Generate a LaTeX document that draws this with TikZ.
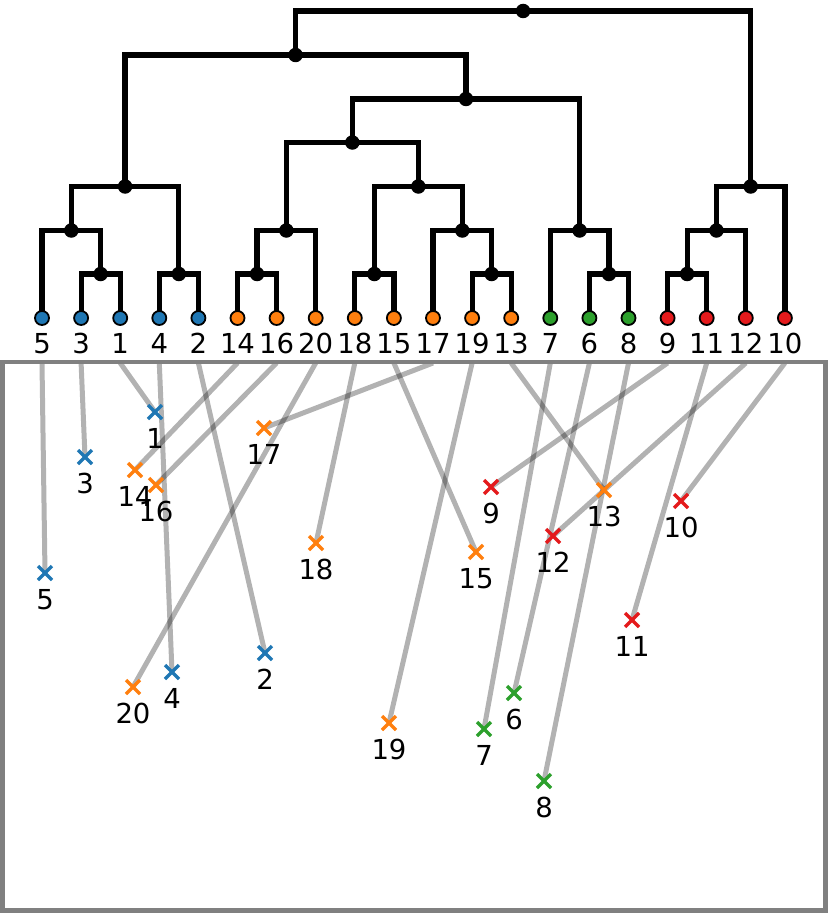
\documentclass[tikz,border=0pt]{standalone}
\usepackage{fontspec}
\setmainfont{DejaVu Sans}
\usetikzlibrary{calc,shapes.misc}
\definecolor{cb}{HTML}{1F77B4}
\definecolor{co}{HTML}{FF7F0E}
\definecolor{cg}{HTML}{2CA02C}
\definecolor{cr}{HTML}{E41A1C}
\definecolor{boxgray}{HTML}{808080}
\tikzset{
  treeline/.style={line width=5.2pt, line join=miter, black},
  leafdot/.style={circle, draw=black, line width=1.8pt, minimum size=14pt, inner sep=0pt},
  innerdot/.style={circle, fill=black, minimum size=14.5pt, inner sep=0pt},
  numlabel/.style={font=\fontsize{27.5}{32}\selectfont, anchor=base, inner sep=0pt},
  marker/.style={cross out, draw, line width=3.5pt, minimum size=10.5pt, inner sep=0pt},
  link/.style={line width=5pt, black, draw opacity=0.3},
  frame/.style={draw=boxgray, line width=4.5pt}
}
\newcommand{\mergeat}[4]{%
  \coordinate (tmp#1) at ($(#2)!0.5!(#3)$);
  \coordinate (#1) at (tmp#1 |- 0,#4);
  \draw[treeline] (#2) |- (#1) -| (#3);
}
\begin{document}
\begin{tikzpicture}[x=1pt,y=-1pt]
\useasboundingbox (0,0) rectangle (830,915);
% leaf positions
\foreach \lab/\i in {5/0,3/1,1/2,4/3,2/4,14/5,16/6,20/7,18/8,15/9,17/10,19/11,13/12,7/13,6/14,8/15,9/16,11/17,12/18,10/19}{
  \coordinate (L\lab) at ({42+39.1*\i},318);
  \coordinate (T\lab) at ({42+39.1*\i},363);
}
% dendrogram
\mergeat{A1}{L3}{L1}{274}
\mergeat{A2}{L5}{A1}{230.5}
\mergeat{A3}{L4}{L2}{274}
\mergeat{A4}{A2}{A3}{186.5}
\mergeat{B1}{L14}{L16}{274}
\mergeat{B2}{B1}{L20}{230.5}
\mergeat{C1}{L18}{L15}{274}
\mergeat{C2}{L19}{L13}{274}
\mergeat{C3}{L17}{C2}{230.5}
\mergeat{C4}{C1}{C3}{186.5}
\mergeat{B3}{B2}{C4}{142.5}
\mergeat{D1}{L6}{L8}{274}
\mergeat{D2}{L7}{D1}{230.5}
\mergeat{E}{B3}{D2}{99}
\mergeat{F}{A4}{E}{55}
\mergeat{R1}{L9}{L11}{274}
\mergeat{R2}{R1}{L12}{230.5}
\mergeat{R3}{R2}{L10}{186.5}
\mergeat{Root}{F}{R3}{11}
\foreach \n in {A1,A2,A3,A4,B1,B2,B3,C1,C2,C3,C4,D1,D2,E,F,R1,R2,R3,Root}{
  \node[innerdot] (I\n) at (\n) {};
}
% leaves and labels
\foreach \lab/\c in {5/cb,3/cb,1/cb,4/cb,2/cb,14/co,16/co,20/co,18/co,15/co,17/co,19/co,13/co,7/cg,6/cg,8/cg,9/cr,11/cr,12/cr,10/cr}{
  \node[leafdot, fill=\c] (LD\lab) at (L\lab) {};
  \node[numlabel] (LN\lab) at ([yshift=-35pt]L\lab) {\lab};
}
% scatter points
\foreach \lab/\px/\py/\c in {1/155/412/cb,2/265/653/cb,3/85/457/cb,4/172/672/cb,5/45/573/cb,
  6/514/693/cg,7/484/729/cg,8/544/781/cg,
  9/491/487/cr,10/681/501/cr,11/632/620/cr,12/553/536/cr,
  13/604/490/co,14/135/470/co,15/476/552/co,16/156/485/co,17/264/428/co,18/316/543/co,19/389/723/co,20/133/687/co}{
  \coordinate (Q\lab) at (\px,\py);
  \draw[link] (T\lab) -- (Q\lab);
}
\node[frame, rectangle, minimum width=823pt, minimum height=548.5pt, inner sep=0pt] (box) at (414,636.25) {};
\foreach \lab/\c in {1/cb,2/cb,3/cb,4/cb,5/cb,6/cg,7/cg,8/cg,9/cr,10/cr,11/cr,12/cr,13/co,14/co,15/co,16/co,17/co,18/co,19/co,20/co}{
  \node[marker, draw=\c] (P\lab) at (Q\lab) {};
  \node[numlabel] (PN\lab) at ([yshift=-36pt]Q\lab) {\lab};
}
\end{tikzpicture}
\end{document}
